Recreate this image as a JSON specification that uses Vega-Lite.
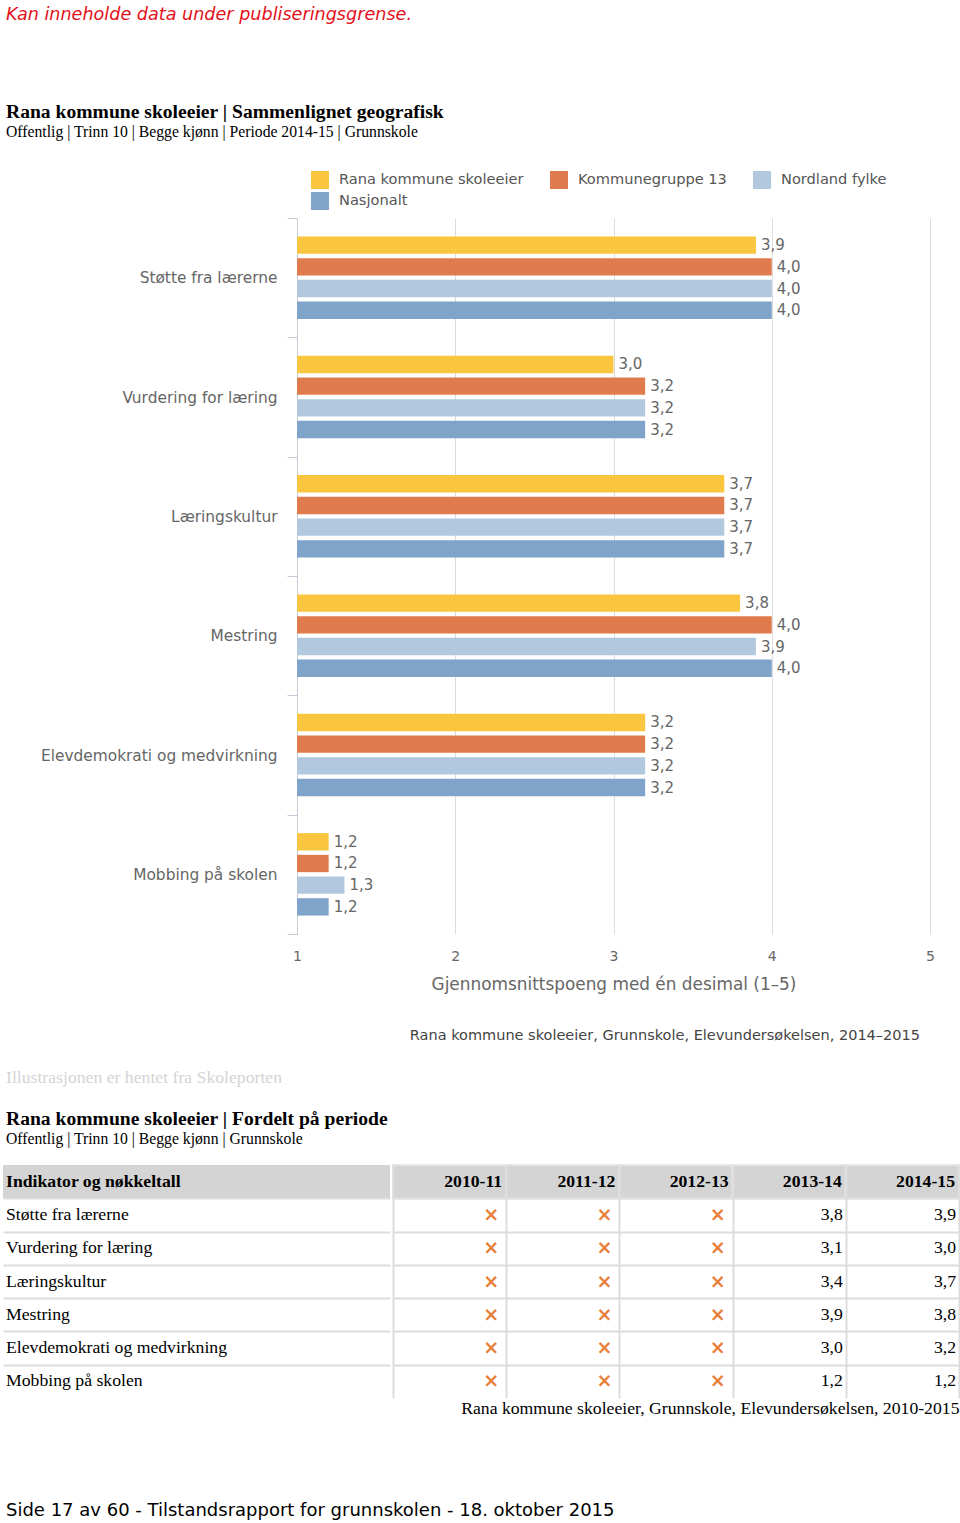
{
  "$schema": "https://vega.github.io/schema/vega-lite/v6.json",
  "background": "white",
  "padding": {"left": 3, "top": 6, "right": 0, "bottom": 0},
  "config": {
    "locale": {"number": {"decimal": ",", "thousands": " ", "grouping": [3], "currency": ["", " kr"]}},
    "view": {"stroke": null}
  },
  "title": {
    "text": "Kan inneholde data under publiseringsgrense.",
    "anchor": "start", "dx": 3, "offset": 78,
    "font": "DejaVu Sans", "fontSize": 17.6, "fontStyle": "italic", "fontWeight": "normal", "color": "#e3101a"
  },
  "datasets": {
    "bars": [
      {"ind": "Støtte fra lærerne", "grp": "Rana kommune skoleeier", "val": 3.9},
      {"ind": "Støtte fra lærerne", "grp": "Kommunegruppe 13", "val": 4.0},
      {"ind": "Støtte fra lærerne", "grp": "Nordland fylke", "val": 4.0},
      {"ind": "Støtte fra lærerne", "grp": "Nasjonalt", "val": 4.0},
      {"ind": "Vurdering for læring", "grp": "Rana kommune skoleeier", "val": 3.0},
      {"ind": "Vurdering for læring", "grp": "Kommunegruppe 13", "val": 3.2},
      {"ind": "Vurdering for læring", "grp": "Nordland fylke", "val": 3.2},
      {"ind": "Vurdering for læring", "grp": "Nasjonalt", "val": 3.2},
      {"ind": "Læringskultur", "grp": "Rana kommune skoleeier", "val": 3.7},
      {"ind": "Læringskultur", "grp": "Kommunegruppe 13", "val": 3.7},
      {"ind": "Læringskultur", "grp": "Nordland fylke", "val": 3.7},
      {"ind": "Læringskultur", "grp": "Nasjonalt", "val": 3.7},
      {"ind": "Mestring", "grp": "Rana kommune skoleeier", "val": 3.8},
      {"ind": "Mestring", "grp": "Kommunegruppe 13", "val": 4.0},
      {"ind": "Mestring", "grp": "Nordland fylke", "val": 3.9},
      {"ind": "Mestring", "grp": "Nasjonalt", "val": 4.0},
      {"ind": "Elevdemokrati og medvirkning", "grp": "Rana kommune skoleeier", "val": 3.2},
      {"ind": "Elevdemokrati og medvirkning", "grp": "Kommunegruppe 13", "val": 3.2},
      {"ind": "Elevdemokrati og medvirkning", "grp": "Nordland fylke", "val": 3.2},
      {"ind": "Elevdemokrati og medvirkning", "grp": "Nasjonalt", "val": 3.2},
      {"ind": "Mobbing på skolen", "grp": "Rana kommune skoleeier", "val": 1.2},
      {"ind": "Mobbing på skolen", "grp": "Kommunegruppe 13", "val": 1.2},
      {"ind": "Mobbing på skolen", "grp": "Nordland fylke", "val": 1.3},
      {"ind": "Mobbing på skolen", "grp": "Nasjonalt", "val": 1.2}
    ],
    "rows": [
      {"ind": "Indikator og nøkkeltall", "hdr": 1},
      {"ind": "Støtte fra lærerne", "hdr": 0},
      {"ind": "Vurdering for læring", "hdr": 0},
      {"ind": "Læringskultur", "hdr": 0},
      {"ind": "Mestring", "hdr": 0},
      {"ind": "Elevdemokrati og medvirkning", "hdr": 0},
      {"ind": "Mobbing på skolen", "hdr": 0}
    ],
    "periods": [
      {"per": "2010-11"}, {"per": "2011-12"}, {"per": "2012-13"}, {"per": "2013-14"}, {"per": "2014-15"}
    ],
    "table": [
      {"ind": "Støtte fra lærerne", "per": "2010-11", "val": null},
      {"ind": "Støtte fra lærerne", "per": "2011-12", "val": null},
      {"ind": "Støtte fra lærerne", "per": "2012-13", "val": null},
      {"ind": "Støtte fra lærerne", "per": "2013-14", "val": 3.8},
      {"ind": "Støtte fra lærerne", "per": "2014-15", "val": 3.9},
      {"ind": "Vurdering for læring", "per": "2010-11", "val": null},
      {"ind": "Vurdering for læring", "per": "2011-12", "val": null},
      {"ind": "Vurdering for læring", "per": "2012-13", "val": null},
      {"ind": "Vurdering for læring", "per": "2013-14", "val": 3.1},
      {"ind": "Vurdering for læring", "per": "2014-15", "val": 3.0},
      {"ind": "Læringskultur", "per": "2010-11", "val": null},
      {"ind": "Læringskultur", "per": "2011-12", "val": null},
      {"ind": "Læringskultur", "per": "2012-13", "val": null},
      {"ind": "Læringskultur", "per": "2013-14", "val": 3.4},
      {"ind": "Læringskultur", "per": "2014-15", "val": 3.7},
      {"ind": "Mestring", "per": "2010-11", "val": null},
      {"ind": "Mestring", "per": "2011-12", "val": null},
      {"ind": "Mestring", "per": "2012-13", "val": null},
      {"ind": "Mestring", "per": "2013-14", "val": 3.9},
      {"ind": "Mestring", "per": "2014-15", "val": 3.8},
      {"ind": "Elevdemokrati og medvirkning", "per": "2010-11", "val": null},
      {"ind": "Elevdemokrati og medvirkning", "per": "2011-12", "val": null},
      {"ind": "Elevdemokrati og medvirkning", "per": "2012-13", "val": null},
      {"ind": "Elevdemokrati og medvirkning", "per": "2013-14", "val": 3.0},
      {"ind": "Elevdemokrati og medvirkning", "per": "2014-15", "val": 3.2},
      {"ind": "Mobbing på skolen", "per": "2010-11", "val": null},
      {"ind": "Mobbing på skolen", "per": "2011-12", "val": null},
      {"ind": "Mobbing på skolen", "per": "2012-13", "val": null},
      {"ind": "Mobbing på skolen", "per": "2013-14", "val": 1.2},
      {"ind": "Mobbing på skolen", "per": "2014-15", "val": 1.2}
    ]
  },
  "spacing": 21,
  "vconcat": [
    {
      "title": {
        "text": "Rana kommune skoleeier | Sammenlignet geografisk",
        "subtitle": "Offentlig | Trinn 10 | Begge kjønn | Periode 2014-15 | Grunnskole",
        "anchor": "start", "dx": 3, "offset": 70,
        "font": "Liberation Serif", "fontSize": 19.6, "fontWeight": "bold", "color": "black",
        "subtitleFont": "Liberation Serif", "subtitleFontSize": 15.7, "subtitleColor": "black", "subtitlePadding": 3
      },
      "spacing": 0,
      "hconcat": [
        {"width": 37, "height": 10, "data": {"values": []}, "mark": {"type": "point", "opacity": 0}},
        {
          "width": 633, "height": 716,
          "data": {"name": "bars"},
          "encoding": {
            "y": {
              "field": "ind", "type": "nominal",
              "scale": {"domain": ["Støtte fra lærerne", "Vurdering for læring", "Læringskultur", "Mestring", "Elevdemokrati og medvirkning", "Mobbing på skolen"], "paddingInner": 0, "paddingOuter": 0},
              "axis": {"title": null, "domain": true, "domainColor": "#c4ccd6", "ticks": true, "tickBand": "extent", "tickSize": 10, "tickColor": "#c4ccd6", "labelFont": "DejaVu Sans", "labelFontSize": 15.4, "labelColor": "#666666", "labelPadding": 10, "labelLimit": 400, "grid": false}
            },
            "yOffset": {
              "field": "grp", "type": "nominal",
              "scale": {"domain": ["Rana kommune skoleeier", "Kommunegruppe 13", "Nordland fylke", "Nasjonalt"], "paddingInner": 0.2, "paddingOuter": 0.85}
            },
            "x": {
              "field": "val", "type": "quantitative",
              "scale": {"domain": [1, 5], "nice": false, "zero": false},
              "axis": {"title": "Gjennomsnittspoeng med én desimal (1–5)", "titleFont": "DejaVu Sans", "titleFontSize": 16.9, "titleFontWeight": "normal", "titleColor": "#666666", "titlePadding": 13, "domain": false, "ticks": false, "labelFont": "DejaVu Sans", "labelFontSize": 14, "labelColor": "#666666", "labelPadding": 15, "labelFlush": false, "values": [1, 2, 3, 4, 5], "format": "d", "grid": true, "gridColor": "#dcdcdc"}
            }
          },
          "layer": [
            {
              "mark": {"type": "bar"},
              "encoding": {
                "x2": {"datum": 1},
                "color": {
                  "field": "grp", "type": "nominal",
                  "scale": {"domain": ["Rana kommune skoleeier", "Kommunegruppe 13", "Nordland fylke", "Nasjonalt"], "range": ["#fac53f", "#e07b4d", "#b2c8df", "#7fa3c9"]},
                  "legend": {"orient": "none", "legendX": 308, "legendY": -47, "title": null, "columns": 3, "direction": "horizontal", "symbolType": "square", "symbolSize": 324, "symbolStrokeWidth": 0, "symbolOpacity": 1, "labelFont": "DejaVu Sans", "labelFontSize": 14.6, "labelColor": "#555555", "labelOffset": 10, "columnPadding": 26, "rowPadding": 3, "padding": 0, "labelLimit": 300}
                }
              }
            },
            {
              "mark": {"type": "text", "align": "left", "baseline": "middle", "dx": 5, "font": "DejaVu Sans", "fontSize": 15, "color": "#666666"},
              "encoding": {"text": {"field": "val", "type": "quantitative", "format": ".1f"}}
            }
          ]
        }
      ]
    },
    {
      "width": 917, "height": 16,
      "data": {"values": []},
      "mark": {"type": "point", "opacity": 0},
      "title": {"text": "Rana kommune skoleeier, Grunnskole, Elevundersøkelsen, 2014–2015", "orient": "bottom", "anchor": "end", "offset": 0, "font": "DejaVu Sans", "fontSize": 14.5, "fontWeight": "normal", "color": "#444444"}
    },
    {
      "width": 300, "height": 5,
      "data": {"values": []},
      "mark": {"type": "point", "opacity": 0},
      "title": {"text": "Illustrasjonen er hentet fra Skoleporten", "orient": "bottom", "anchor": "start", "dx": 3, "offset": 0, "font": "Liberation Serif", "fontSize": 17.7, "fontWeight": "normal", "color": "#d4d4d4"}
    },
    {
      "title": {
        "text": "Rana kommune skoleeier | Fordelt på periode",
        "subtitle": "Offentlig | Trinn 10 | Begge kjønn | Grunnskole",
        "anchor": "start", "dx": 3, "offset": 16,
        "font": "Liberation Serif", "fontSize": 19.6, "fontWeight": "bold", "color": "black",
        "subtitleFont": "Liberation Serif", "subtitleFontSize": 15.7, "subtitleColor": "black", "subtitlePadding": 3
      },
      "spacing": 2,
      "hconcat": [
        {
          "width": 387, "height": 233,
          "data": {"name": "rows"},
          "encoding": {
            "y": {
              "field": "ind", "type": "nominal",
              "scale": {"domain": ["Indikator og nøkkeltall", "Støtte fra lærerne", "Vurdering for læring", "Læringskultur", "Mestring", "Elevdemokrati og medvirkning", "Mobbing på skolen"], "paddingInner": 0, "paddingOuter": 0},
              "axis": {"title": null, "labels": false, "ticks": false, "domain": false, "grid": true, "tickBand": "extent", "gridColor": "#dcdcdc", "gridWidth": 2, "gridOpacity": {"condition": {"test": "datum.index < 0 || datum.index >= 1", "value": 0}, "value": 1}}
            }
          },
          "layer": [
            {"transform": [{"filter": "datum.hdr == 1"}], "mark": {"type": "rect", "color": "#d4d4d4"}},
            {
              "transform": [{"filter": "datum.hdr == 1"}],
              "mark": {"type": "text", "align": "left", "baseline": "middle", "dx": 3, "font": "Liberation Serif", "fontSize": 17.7, "fontWeight": "bold", "color": "black"},
              "encoding": {"x": {"datum": 0, "type": "quantitative", "scale": {"domain": [0, 1]}, "axis": null}, "text": {"field": "ind"}}
            },
            {
              "transform": [{"filter": "datum.hdr == 0"}],
              "mark": {"type": "text", "align": "left", "baseline": "middle", "dx": 3, "font": "Liberation Serif", "fontSize": 17.7, "fontWeight": "normal", "color": "black"},
              "encoding": {"x": {"datum": 0, "type": "quantitative"}, "text": {"field": "ind"}}
            }
          ]
        },
        {
          "width": 566, "height": 233,
          "encoding": {
            "x": {
              "field": "per", "type": "nominal",
              "scale": {"domain": ["2010-11", "2011-12", "2012-13", "2013-14", "2014-15"], "paddingInner": 0, "paddingOuter": 0},
              "axis": {"orient": "bottom", "title": "Rana kommune skoleeier, Grunnskole, Elevundersøkelsen, 2010-2015", "titleAnchor": "end", "titleFont": "Liberation Serif", "titleFontSize": 17.7, "titleFontWeight": "normal", "titleColor": "black", "titlePadding": 1, "labels": false, "ticks": false, "domain": false, "grid": true, "tickBand": "extent", "gridColor": "#dcdcdc", "gridWidth": 2}
            },
            "y": {
              "field": "ind", "type": "nominal",
              "scale": {"domain": ["Indikator og nøkkeltall", "Støtte fra lærerne", "Vurdering for læring", "Læringskultur", "Mestring", "Elevdemokrati og medvirkning", "Mobbing på skolen"], "paddingInner": 0, "paddingOuter": 0},
              "axis": {"title": null, "labels": false, "ticks": false, "domain": false, "grid": true, "tickBand": "extent", "gridColor": "#dcdcdc", "gridWidth": 2, "gridOpacity": {"condition": {"test": "datum.index < 0 || datum.index >= 1", "value": 0}, "value": 1}}
            }
          },
          "layer": [
            {
              "data": {"name": "periods"},
              "mark": {"type": "rect", "color": "#d4d4d4", "stroke": "#e6e6e6", "strokeWidth": 2},
              "encoding": {"y": {"datum": "Indikator og nøkkeltall", "type": "nominal"}}
            },
            {
              "data": {"name": "periods"},
              "mark": {"type": "text", "align": "right", "baseline": "middle", "dx": -4, "font": "Liberation Serif", "fontSize": 17.7, "fontWeight": "bold", "color": "black"},
              "encoding": {
                "y": {"datum": "Indikator og nøkkeltall", "type": "nominal"},
                "x": {"field": "per", "type": "nominal", "bandPosition": 1},
                "text": {"field": "per"}
              }
            },
            {
              "data": {"name": "table"},
              "transform": [{"filter": "isValid(datum.val)"}],
              "mark": {"type": "text", "align": "right", "baseline": "middle", "dx": -3, "font": "Liberation Serif", "fontSize": 17.7, "color": "black"},
              "encoding": {
                "x": {"field": "per", "type": "nominal", "bandPosition": 1},
                "text": {"field": "val", "type": "quantitative", "format": ".1f"}
              }
            },
            {
              "data": {"name": "table"},
              "transform": [{"filter": "!isValid(datum.val)"}],
              "mark": {"type": "text", "text": "×", "align": "right", "baseline": "middle", "dx": -7, "font": "DejaVu Sans", "fontSize": 19, "fontWeight": "bold", "color": "#e8803a"},
              "encoding": {"x": {"field": "per", "type": "nominal", "bandPosition": 1}}
            }
          ]
        }
      ]
    },
    {
      "width": 640, "height": 64,
      "data": {"values": []},
      "mark": {"type": "point", "opacity": 0},
      "title": {"text": "Side 17 av 60 - Tilstandsrapport for grunnskolen - 18. oktober 2015", "orient": "bottom", "anchor": "start", "dx": 3, "offset": 0, "font": "DejaVu Sans", "fontSize": 18, "fontWeight": "normal", "color": "black"}
    }
  ]
}
